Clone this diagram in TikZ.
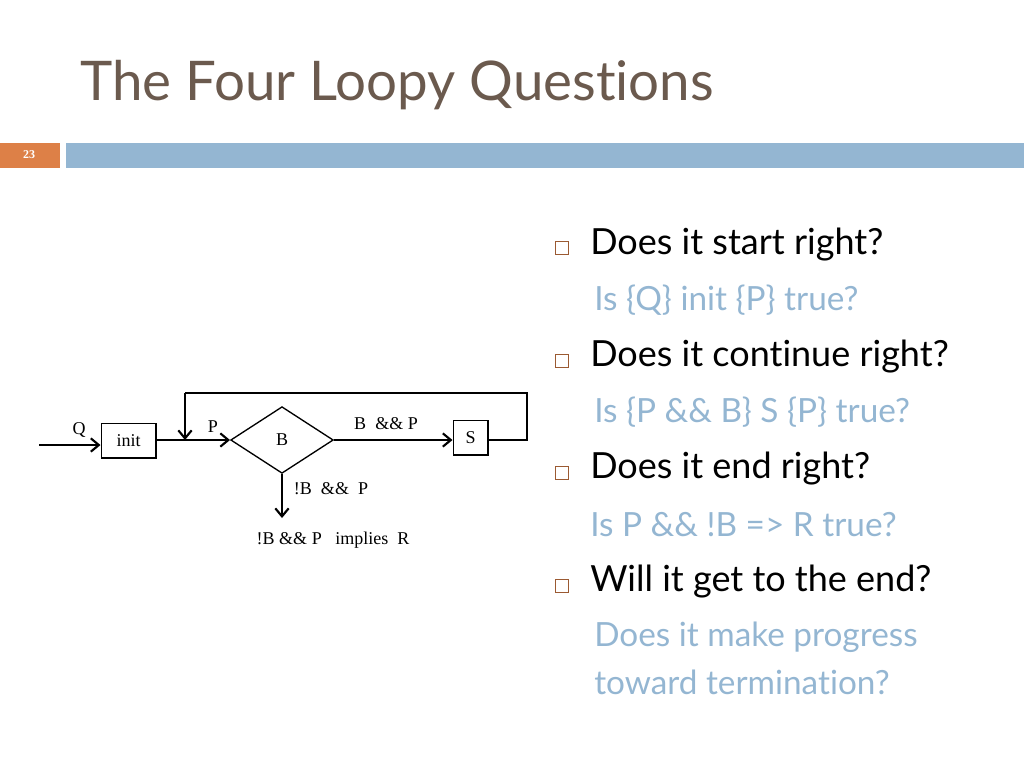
\documentclass[tikz,border=0pt]{standalone}
\usepackage{fontspec}
\setmainfont{Lato}[Ligatures={NoCommon}]
\newfontfamily\dg{Liberation Serif}
\usetikzlibrary{shapes.geometric,arrows.meta}
\definecolor{ttl}{HTML}{6B5A4E}
\definecolor{org}{HTML}{DD8047}
\definecolor{blu}{HTML}{94B6D2}
\tikzset{
  box/.style={draw,line width=1pt,minimum width=41pt,minimum height=26pt,inner sep=0pt,font=\dg\fontsize{13.5}{15}\selectfont},
  lab/.style={font=\dg\fontsize{13.5}{15}\selectfont,inner sep=0pt},
  ar/.style={line width=1.4pt,-{Straight Barb[length=6pt,width=10pt,line width=1.6pt]}},
  q/.style={anchor=west,font=\fontsize{27}{30}\selectfont,text=black,inner sep=0pt},
  a/.style={anchor=west,font=\fontsize{25}{28}\selectfont,text=blu,inner sep=0pt},
  bul/.style={draw=org!70!black,thin,minimum size=10pt,inner sep=0pt}
}
\begin{document}
\begin{tikzpicture}[x=0.75pt,y=-0.75pt]
\useasboundingbox (0,0) rectangle (1024,768);
\node[anchor=west,text=ttl,font=\fontsize{41}{44}\selectfont,inner sep=0pt] (title) at (80,85) {The Four Loopy Questions};
\fill[org] (0,143) rectangle (60,168);
\node[text=white,font=\dg\bfseries\fontsize{9}{10}\selectfont] (num) at (29,155) {23};
\fill[blu] (66,143) rectangle (1024,168);
% diagram
\node[box] (init) at (128.5,440.5) {init};
\node[box,minimum width=26pt] (S) at (470.5,437.5) {S};
\node[draw,line width=1pt,diamond,aspect=1.56,minimum width=77pt,minimum height=50pt,inner sep=0pt,font=\dg\fontsize{13.5}{15}\selectfont] (B) at (282,440) {B};
\coordinate (in) at (39,445);
\coordinate (j) at (185,440);
\coordinate (top) at (185,393);
\coordinate (rt) at (527,393);
\coordinate (rb) at (527,440);
\coordinate (dn) at (282,518);
\draw[ar] (in) -- (in -| init.west);
\draw[ar] (init.east |- B.west) -- (B.west);
\draw[ar] (B.east) -- (S.west |- B.east);
\draw[line width=1.4pt] (S.east |- rb) -- (rb) -- (rt) -- (top);
\draw[ar] (top) -- (j);
\draw[ar] (B.south) -- (dn);
\node[lab] (lq) at (79,430) {Q};
\node[lab] (lp) at (213,427) {P};
\node[lab] (lbp) at (386,424) {B\ \ \&\& P};
\node[lab] (lnb) at (331,489) {!B\ \ \&\&\ \ P};
\node[lab] (limp) at (333,540) {!B \&\& P\ \ \ implies\ \ R};
% questions
\node[bul] (b1) at (562,248) {};
\node[bul] (b2) at (562,361) {};
\node[bul] (b3) at (562,473) {};
\node[bul] (b4) at (562,586) {};
\node[q] (q1) at (590,245) {Does it start right?};
\node[a] (a1) at (594,300) {Is \{Q\} init \{P\} true?};
\node[q] (q2) at (590,357) {Does it continue right?};
\node[a] (a2) at (594,412) {Is \{P \&\& B\} S \{P\} true?};
\node[q] (q3) at (590,469) {Does it end right?};
\node[a] (a3) at (590,525) {Is P \&\& !B => R true?};
\node[q] (q4) at (590,582) {Will it get to the end?};
\node[a] (a4) at (594,637) {Does it make progress};
\node[a] (a5) at (594,682) {toward termination?};
\end{tikzpicture}
\end{document}
